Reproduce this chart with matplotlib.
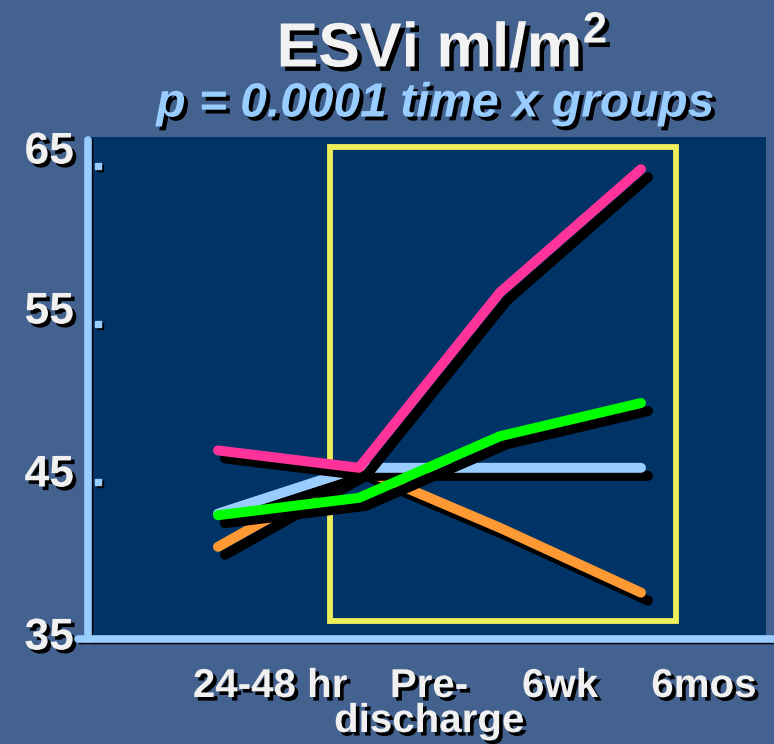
import matplotlib
matplotlib.use("Agg")
import matplotlib.pyplot as plt
from matplotlib.transforms import ScaledTranslation
from matplotlib.patches import Rectangle
from matplotlib.lines import Line2D
import matplotlib.patheffects as pe

# ---- data -------------------------------------------------------------
timepoints = ["24-48 hr", "Pre-\ndischarge", "6wk", "6mos"]
orange_group = [40.9, 45.9, 42.1, 38.0]
blue_group = [43.0, 45.9, 45.9, 45.9]
green_group = [42.9, 44.0, 47.9, 50.0]
pink_group = [47.0, 45.9, 57.0, 64.8]
yticks = [35, 45, 55, 65]

series = [
    (orange_group, "#ff9933"),
    (blue_group, "#99ccff"),
    (green_group, "#00ff00"),
    (pink_group, "#ff3399"),
]

# ---- figure -----------------------------------------------------------
W, H, DPI = 774, 744, 100
BG = "#44628f"
NAVY = "#003366"
AXIS_BLUE = "#99ccff"

plt.rcParams["font.family"] = ["Liberation Sans", "DejaVu Sans"]
plt.rcParams["mathtext.fontset"] = "custom"
plt.rcParams["mathtext.rm"] = "Liberation Sans:bold"
plt.rcParams["mathtext.bf"] = "Liberation Sans:bold"
fig = plt.figure(figsize=(W / DPI, H / DPI), dpi=DPI, facecolor=BG)

left, right, top, bottom = 90, 766, 137, 640
ax = fig.add_axes([left / W, 1 - bottom / H, (right - left) / W, (bottom - top) / H])
ax.set_facecolor(NAVY)
for s in ax.spines.values():
    s.set_visible(False)

ax.set_xlim(-0.908, 3.887)
ax.set_ylim(35, 66.84)

def shift(dx, dy):
    return ScaledTranslation(dx / DPI, -dy / DPI, fig.dpi_scale_trans)

xs = list(range(len(timepoints)))

# highlight box around the follow-up period
ax.add_patch(Rectangle((0.791, 36.2), 3.248 - 0.791, 66.2 - 36.2,
                       fill=False, edgecolor="#eeee5a", linewidth=4.2, zorder=2))

# group lines with drop shadows
for vals, col in series:
    ax.plot(xs, vals, color="black", linewidth=7.2, solid_capstyle="round",
            solid_joinstyle="round", transform=ax.transData + shift(7, 8), zorder=3)
    ax.plot(xs, vals, color=col, linewidth=7.2, solid_capstyle="round",
            solid_joinstyle="round", zorder=3)

# axis lines (drawn in figure pixels, with a thin shadow)
def fig_line(x0, y0, x1, y1, **kw):
    fig.add_artist(Line2D([x0 / W, x1 / W], [1 - y0 / H, 1 - y1 / H],
                          transform=fig.transFigure, **kw))

fig_line(91, 140, 91, 641, color="black", linewidth=2.5, zorder=5)
fig_line(80, 642, 774, 642, color="black", linewidth=2.5, zorder=5)
fig_line(88, 140, 88, 639, color=AXIS_BLUE, linewidth=5.5,
         solid_capstyle="round", zorder=6)
fig_line(78, 639, 774, 639, color=AXIS_BLUE, linewidth=5.5,
         solid_capstyle="round", zorder=6)

# y tick squares
tick_x = -0.908 + 8.5 / 141
for v in yticks[1:]:
    ax.plot([tick_x], [v], marker="s", markersize=5, color="black",
            transform=ax.transData + shift(2, 2), clip_on=False, zorder=4)
    ax.plot([tick_x], [v], marker="s", markersize=5, color=AXIS_BLUE,
            clip_on=False, zorder=4)

ax.set_xticks([])
ax.set_yticks([])

shadow = [pe.SimplePatchShadow(offset=(2.6, -2.6), shadow_rgbFace="black", alpha=1.0),
          pe.Normal()]

# y labels
label_offsets = [2, 7, 12, 14]
for v, off in zip(yticks, label_offsets):
    t = ax.text(0, v, str(v), transform=ax.get_yaxis_transform() + shift(-16, -off),
                ha="right", va="center", fontsize=32, fontweight="bold",
                color="#f0f0f0", clip_on=False)
    t.set_path_effects(shadow)

# x labels
x_label_offsets = [52, 70, 60, 63]
for x, lab, off in zip(xs, timepoints, x_label_offsets):
    t = ax.text(x, 0, lab, transform=ax.get_xaxis_transform() + shift(off, 27),
                ha="center", va="top", fontsize=29, fontweight="bold",
                color="#f0f0f0", linespacing=0.9, clip_on=False)
    t.set_path_effects(shadow)

# titles
t1 = fig.text(442 / W, 1 - 50 / H, r"ESVi ml/m$^{\mathbf{2}}$", ha="center", va="center",
              fontsize=45, fontweight="bold", color="#f2f2f2")
t1.set_path_effects([pe.SimplePatchShadow(offset=(3.2, -3.2), shadow_rgbFace="black", alpha=1.0),
                     pe.Normal()])
t2 = fig.text(435 / W, 1 - 104 / H, "p = 0.0001 time x groups", ha="center", va="center",
              fontsize=34.5, fontweight="bold", fontstyle="italic", color="#99ccff")
t2.set_path_effects([pe.SimplePatchShadow(offset=(2.8, -2.8), shadow_rgbFace="black", alpha=1.0),
                     pe.Normal()])

fig.savefig("out.png", dpi=DPI, facecolor=BG)
